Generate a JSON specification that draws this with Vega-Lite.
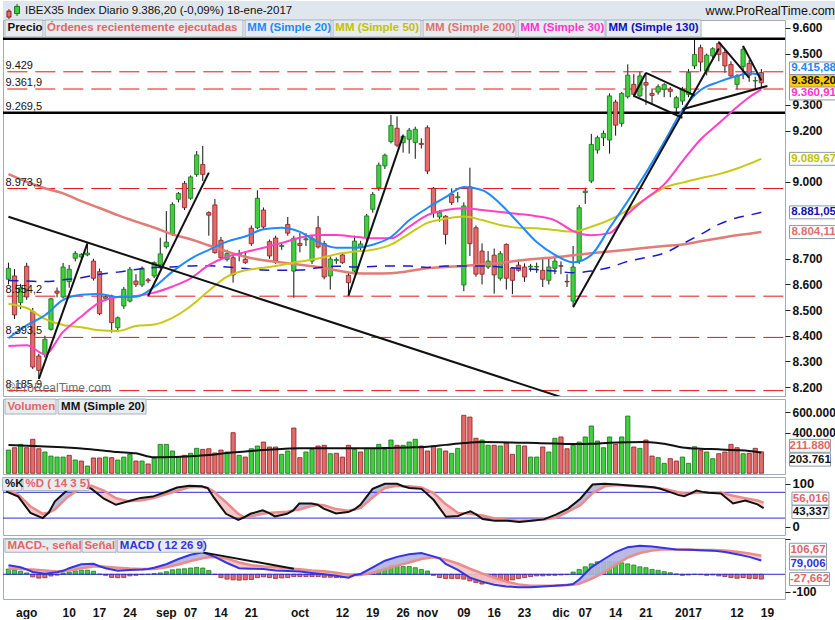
{
"$schema":"https://vega.github.io/schema/vega-lite/v6.json",
"padding":0,
"background":"white",
"spacing":3,
"bounds":"flush",
"config":{"view":{"stroke":"#a3adb8","strokeWidth":1},"font":"Liberation Sans","axis":{"labelFont":"Liberation Sans","labelFontWeight":"bold","labelFontSize":12,"labelColor":"#111","tickColor":"#222","domain":false,"grid":false,"zindex":0}},
"datasets":{
"one":[{"z":0}],
"c":[
{"d":"2016-07-27","o":8620,"h":8685,"l":8600,"c":8663,"v":229000,"vc":"g","mh":30},
{"d":"2016-07-28","o":8633,"h":8660,"l":8465,"c":8481,"v":252000,"vc":"r","mh":24},
{"d":"2016-07-29","o":8529,"h":8602,"l":8504,"c":8587,"v":285000,"vc":"g","mh":18},
{"d":"2016-08-01","o":8671,"h":8684,"l":8540,"c":8551,"v":252000,"vc":"r","mh":8},
{"d":"2016-08-02","o":8494,"h":8508,"l":8270,"c":8278,"v":335000,"vc":"r","mh":-15},
{"d":"2016-08-03","o":8321,"h":8330,"l":8232,"c":8265,"v":242000,"vc":"r","mh":-22},
{"d":"2016-08-04","o":8327,"h":8400,"l":8315,"c":8386,"v":210000,"vc":"g","mh":-20},
{"d":"2016-08-05","o":8425,"h":8548,"l":8420,"c":8544,"v":170000,"vc":"g","mh":-10},
{"d":"2016-08-08","o":8574,"h":8588,"l":8550,"c":8566,"v":160000,"vc":"g","mh":-5},
{"d":"2016-08-09","o":8551,"h":8684,"l":8545,"c":8668,"v":160000,"vc":"g","mh":8},
{"d":"2016-08-10","o":8611,"h":8676,"l":8587,"c":8659,"v":177000,"vc":"r","mh":13},
{"d":"2016-08-11","o":8702,"h":8730,"l":8690,"c":8721,"v":131000,"vc":"g","mh":20},
{"d":"2016-08-12","o":8707,"h":8722,"l":8700,"c":8717,"v":121000,"vc":"r","mh":24},
{"d":"2016-08-15","o":8715,"h":8759,"l":8710,"c":8722,"v":72000,"vc":"g","mh":24},
{"d":"2016-08-16","o":8691,"h":8700,"l":8615,"c":8624,"v":151000,"vc":"r","mh":18},
{"d":"2016-08-17","o":8650,"h":8662,"l":8480,"c":8486,"v":151000,"vc":"r","mh":1},
{"d":"2016-08-18","o":8545,"h":8560,"l":8535,"c":8551,"v":160000,"vc":"g","mh":-6},
{"d":"2016-08-19","o":8555,"h":8560,"l":8412,"c":8451,"v":154000,"vc":"r","mh":-18},
{"d":"2016-08-22","o":8431,"h":8475,"l":8420,"c":8470,"v":131000,"vc":"g","mh":-20},
{"d":"2016-08-23","o":8516,"h":8590,"l":8505,"c":8581,"v":160000,"vc":"g","mh":-18},
{"d":"2016-08-24","o":8535,"h":8668,"l":8530,"c":8659,"v":187000,"vc":"g","mh":-9},
{"d":"2016-08-25","o":8613,"h":8640,"l":8590,"c":8600,"v":121000,"vc":"r","mh":-6},
{"d":"2016-08-26","o":8598,"h":8670,"l":8590,"c":8663,"v":121000,"vc":"g","mh":-2},
{"d":"2016-08-29","o":8618,"h":8625,"l":8605,"c":8614,"v":92000,"vc":"r","mh":0},
{"d":"2016-08-30","o":8633,"h":8690,"l":8625,"c":8685,"v":147000,"vc":"g","mh":4},
{"d":"2016-08-31","o":8676,"h":8782,"l":8660,"c":8719,"v":285000,"vc":"g","mh":8},
{"d":"2016-09-01","o":8747,"h":8886,"l":8740,"c":8765,"v":285000,"vc":"g","mh":15},
{"d":"2016-09-02","o":8798,"h":8920,"l":8790,"c":8912,"v":220000,"vc":"g","mh":26},
{"d":"2016-09-05","o":8932,"h":8960,"l":8920,"c":8955,"v":160000,"vc":"g","mh":30},
{"d":"2016-09-06","o":8994,"h":9003,"l":8890,"c":8899,"v":177000,"vc":"r","mh":32},
{"d":"2016-09-07","o":8936,"h":9025,"l":8930,"c":9019,"v":197000,"vc":"g","mh":36},
{"d":"2016-09-08","o":9029,"h":9120,"l":9020,"c":9105,"v":246000,"vc":"g","mh":40},
{"d":"2016-09-09","o":9068,"h":9140,"l":9003,"c":9029,"v":236000,"vc":"r","mh":36},
{"d":"2016-09-12","o":8880,"h":8885,"l":8790,"c":8870,"v":242000,"vc":"r","mh":22},
{"d":"2016-09-13","o":8910,"h":8933,"l":8720,"c":8724,"v":200000,"vc":"r","mh":-1},
{"d":"2016-09-14","o":8772,"h":8785,"l":8700,"c":8704,"v":229000,"vc":"r","mh":-19},
{"d":"2016-09-15","o":8698,"h":8735,"l":8690,"c":8720,"v":210000,"vc":"g","mh":-28},
{"d":"2016-09-16","o":8704,"h":8715,"l":8607,"c":8637,"v":400000,"vc":"r","mh":-32},
{"d":"2016-09-19","o":8715,"h":8735,"l":8690,"c":8720,"v":177000,"vc":"g","mh":-34},
{"d":"2016-09-20","o":8698,"h":8730,"l":8680,"c":8685,"v":160000,"vc":"r","mh":-32},
{"d":"2016-09-21","o":8819,"h":8830,"l":8750,"c":8759,"v":242000,"vc":"g","mh":-30},
{"d":"2016-09-22","o":8821,"h":8967,"l":8815,"c":8936,"v":269000,"vc":"g","mh":-19},
{"d":"2016-09-23","o":8890,"h":8900,"l":8815,"c":8824,"v":308000,"vc":"r","mh":-15},
{"d":"2016-09-26","o":8767,"h":8775,"l":8700,"c":8711,"v":259000,"vc":"r","mh":-19},
{"d":"2016-09-27","o":8781,"h":8790,"l":8680,"c":8691,"v":259000,"vc":"r","mh":-24},
{"d":"2016-09-28","o":8748,"h":8760,"l":8735,"c":8752,"v":187000,"vc":"g","mh":-21},
{"d":"2016-09-29","o":8834,"h":8863,"l":8790,"c":8800,"v":220000,"vc":"g","mh":-19},
{"d":"2016-09-30","o":8652,"h":8790,"l":8548,"c":8780,"v":446000,"vc":"r","mh":-13},
{"d":"2016-10-03","o":8760,"h":8800,"l":8725,"c":8752,"v":154000,"vc":"r","mh":-13},
{"d":"2016-10-04","o":8774,"h":8800,"l":8750,"c":8778,"v":210000,"vc":"g","mh":-13},
{"d":"2016-10-05","o":8691,"h":8790,"l":8680,"c":8780,"v":236000,"vc":"g","mh":-13},
{"d":"2016-10-06","o":8821,"h":8867,"l":8740,"c":8746,"v":269000,"vc":"r","mh":-13},
{"d":"2016-10-07","o":8759,"h":8770,"l":8620,"c":8629,"v":276000,"vc":"r","mh":-17},
{"d":"2016-10-10","o":8633,"h":8710,"l":8580,"c":8699,"v":193000,"vc":"g","mh":-17},
{"d":"2016-10-11","o":8693,"h":8705,"l":8680,"c":8697,"v":197000,"vc":"r","mh":-19},
{"d":"2016-10-12","o":8715,"h":8725,"l":8680,"c":8685,"v":160000,"vc":"r","mh":-19},
{"d":"2016-10-13","o":8636,"h":8645,"l":8556,"c":8607,"v":276000,"vc":"r","mh":-13},
{"d":"2016-10-14","o":8652,"h":8790,"l":8640,"c":8769,"v":236000,"vc":"g","mh":-6},
{"d":"2016-10-17","o":8745,"h":8770,"l":8730,"c":8758,"v":210000,"vc":"r","mh":1},
{"d":"2016-10-18","o":8782,"h":8875,"l":8770,"c":8867,"v":246000,"vc":"g","mh":5},
{"d":"2016-10-19","o":8893,"h":8960,"l":8880,"c":8951,"v":246000,"vc":"g","mh":13},
{"d":"2016-10-20","o":8977,"h":9075,"l":8965,"c":9065,"v":285000,"vc":"g","mh":28},
{"d":"2016-10-21","o":9062,"h":9110,"l":9050,"c":9104,"v":236000,"vc":"g","mh":38},
{"d":"2016-10-24","o":9157,"h":9261,"l":9150,"c":9220,"v":328000,"vc":"g","mh":51},
{"d":"2016-10-25","o":9209,"h":9255,"l":9135,"c":9143,"v":276000,"vc":"r","mh":51},
{"d":"2016-10-26","o":9153,"h":9185,"l":9114,"c":9178,"v":276000,"vc":"g","mh":45},
{"d":"2016-10-27","o":9166,"h":9210,"l":9110,"c":9201,"v":308000,"vc":"g","mh":45},
{"d":"2016-10-28","o":9153,"h":9215,"l":9090,"c":9205,"v":335000,"vc":"g","mh":38},
{"d":"2016-10-31","o":9150,"h":9170,"l":9130,"c":9146,"v":269000,"vc":"r","mh":28},
{"d":"2016-11-01","o":9211,"h":9220,"l":9030,"c":9042,"v":220000,"vc":"r","mh":19},
{"d":"2016-11-02","o":8975,"h":8980,"l":8860,"c":8880,"v":269000,"vc":"r","mh":-6},
{"d":"2016-11-03","o":8863,"h":8890,"l":8845,"c":8880,"v":242000,"vc":"g","mh":-19},
{"d":"2016-11-04","o":8866,"h":8870,"l":8756,"c":8795,"v":220000,"vc":"r","mh":-24},
{"d":"2016-11-07","o":8951,"h":8975,"l":8910,"c":8919,"v":197000,"vc":"g","mh":-24},
{"d":"2016-11-08","o":8938,"h":8960,"l":8920,"c":8942,"v":246000,"vc":"g","mh":-24},
{"d":"2016-11-09","o":8598,"h":8920,"l":8574,"c":8906,"v":571000,"vc":"r","mh":-28},
{"d":"2016-11-10","o":8980,"h":9055,"l":8711,"c":8759,"v":554000,"vc":"r","mh":-38},
{"d":"2016-11-11","o":8821,"h":8830,"l":8630,"c":8640,"v":345000,"vc":"r","mh":-47},
{"d":"2016-11-14","o":8730,"h":8760,"l":8600,"c":8640,"v":328000,"vc":"g","mh":-56},
{"d":"2016-11-15","o":8668,"h":8730,"l":8660,"c":8691,"v":276000,"vc":"g","mh":-51},
{"d":"2016-11-16","o":8714,"h":8740,"l":8564,"c":8637,"v":276000,"vc":"r","mh":-47},
{"d":"2016-11-17","o":8624,"h":8730,"l":8615,"c":8720,"v":269000,"vc":"g","mh":-47},
{"d":"2016-11-18","o":8756,"h":8760,"l":8580,"c":8624,"v":296000,"vc":"r","mh":-38},
{"d":"2016-11-21","o":8663,"h":8668,"l":8562,"c":8616,"v":187000,"vc":"r","mh":-32},
{"d":"2016-11-22","o":8675,"h":8690,"l":8650,"c":8655,"v":276000,"vc":"g","mh":-24},
{"d":"2016-11-23","o":8668,"h":8682,"l":8610,"c":8629,"v":269000,"vc":"r","mh":-19},
{"d":"2016-11-24","o":8668,"h":8680,"l":8650,"c":8671,"v":160000,"vc":"g","mh":-13},
{"d":"2016-11-25","o":8668,"h":8685,"l":8645,"c":8670,"v":160000,"vc":"g","mh":-9},
{"d":"2016-11-28","o":8655,"h":8700,"l":8590,"c":8620,"v":259000,"vc":"r","mh":-9},
{"d":"2016-11-29","o":8616,"h":8700,"l":8600,"c":8668,"v":210000,"vc":"g","mh":-6},
{"d":"2016-11-30","o":8663,"h":8705,"l":8640,"c":8691,"v":345000,"vc":"g","mh":-6},
{"d":"2016-12-01","o":8673,"h":8690,"l":8640,"c":8671,"v":358000,"vc":"r","mh":-4},
{"d":"2016-12-02","o":8612,"h":8640,"l":8590,"c":8610,"v":242000,"vc":"r","mh":-2},
{"d":"2016-12-05","o":8535,"h":8750,"l":8516,"c":8668,"v":276000,"vc":"g","mh":13},
{"d":"2016-12-06","o":8691,"h":8910,"l":8680,"c":8899,"v":308000,"vc":"g","mh":28},
{"d":"2016-12-07","o":8958,"h":8977,"l":8914,"c":8964,"v":358000,"vc":"g","mh":43},
{"d":"2016-12-08","o":9003,"h":9187,"l":8995,"c":9146,"v":466000,"vc":"g","mh":60},
{"d":"2016-12-09","o":9124,"h":9180,"l":9110,"c":9172,"v":318000,"vc":"g","mh":72},
{"d":"2016-12-12","o":9172,"h":9200,"l":9140,"c":9189,"v":252000,"vc":"g","mh":75},
{"d":"2016-12-13","o":9163,"h":9345,"l":9110,"c":9335,"v":358000,"vc":"g","mh":75},
{"d":"2016-12-14","o":9311,"h":9320,"l":9180,"c":9221,"v":285000,"vc":"r","mh":72},
{"d":"2016-12-15","o":9228,"h":9350,"l":9215,"c":9345,"v":358000,"vc":"g","mh":66},
{"d":"2016-12-16","o":9332,"h":9458,"l":9325,"c":9416,"v":564000,"vc":"g","mh":60},
{"d":"2016-12-19","o":9380,"h":9420,"l":9330,"c":9341,"v":259000,"vc":"r","mh":53},
{"d":"2016-12-20","o":9335,"h":9430,"l":9330,"c":9413,"v":246000,"vc":"g","mh":43},
{"d":"2016-12-21","o":9387,"h":9426,"l":9300,"c":9377,"v":328000,"vc":"r","mh":38},
{"d":"2016-12-22","o":9345,"h":9360,"l":9300,"c":9337,"v":170000,"vc":"r","mh":28},
{"d":"2016-12-23","o":9350,"h":9380,"l":9340,"c":9371,"v":154000,"vc":"g","mh":23},
{"d":"2016-12-27","o":9361,"h":9385,"l":9330,"c":9379,"v":98000,"vc":"g","mh":15},
{"d":"2016-12-28","o":9361,"h":9370,"l":9330,"c":9353,"v":144000,"vc":"r","mh":9},
{"d":"2016-12-29","o":9289,"h":9335,"l":9270,"c":9328,"v":121000,"vc":"r","mh":2},
{"d":"2016-12-30","o":9315,"h":9370,"l":9300,"c":9361,"v":160000,"vc":"g","mh":-6},
{"d":"2017-01-02","o":9341,"h":9440,"l":9330,"c":9426,"v":98000,"vc":"g","mh":-4},
{"d":"2017-01-03","o":9452,"h":9556,"l":9440,"c":9497,"v":262000,"vc":"g","mh":0},
{"d":"2017-01-04","o":9523,"h":9535,"l":9430,"c":9467,"v":229000,"vc":"r","mh":-2},
{"d":"2017-01-05","o":9432,"h":9500,"l":9415,"c":9494,"v":210000,"vc":"g","mh":-6},
{"d":"2017-01-06","o":9491,"h":9525,"l":9480,"c":9519,"v":144000,"vc":"g","mh":-4},
{"d":"2017-01-09","o":9540,"h":9548,"l":9470,"c":9497,"v":193000,"vc":"r","mh":-9},
{"d":"2017-01-10","o":9504,"h":9515,"l":9425,"c":9452,"v":210000,"vc":"r","mh":-13},
{"d":"2017-01-11","o":9458,"h":9470,"l":9405,"c":9413,"v":285000,"vc":"r","mh":-19},
{"d":"2017-01-12","o":9380,"h":9420,"l":9360,"c":9413,"v":252000,"vc":"r","mh":-23},
{"d":"2017-01-13","o":9449,"h":9530,"l":9400,"c":9517,"v":193000,"vc":"g","mh":-19},
{"d":"2017-01-16","o":9462,"h":9475,"l":9390,"c":9416,"v":197000,"vc":"r","mh":-24},
{"d":"2017-01-17","o":9393,"h":9410,"l":9360,"c":9395,"v":246000,"vc":"r","mh":-24},
{"d":"2017-01-18","o":9426,"h":9440,"l":9368,"c":9386.2,"v":211880,"vc":"r","mh":-27.662}
],
"ma":[
{"d":"2016-07-27","a20":8390,"a30":8360,"a50":8525,"a200":9030,"a130":8615,"vm":280000},
{"d":"2016-08-01","a20":8440,"a30":8363,"a50":8508,"a200":9000,"a130":8613,"vm":272000},
{"d":"2016-08-04","a20":8480,"a30":8328,"a50":8466,"a200":8975,"a130":8611,"vm":265000},
{"d":"2016-08-09","a20":8540,"a30":8415,"a50":8442,"a200":8955,"a130":8618,"vm":256000},
{"d":"2016-08-12","a20":8560,"a30":8475,"a50":8433,"a200":8925,"a130":8626,"vm":245000},
{"d":"2016-08-17","a20":8563,"a30":8530,"a50":8421,"a200":8898,"a130":8640,"vm":228000},
{"d":"2016-08-22","a20":8551,"a30":8551,"a50":8418,"a200":8870,"a130":8648,"vm":210000},
{"d":"2016-08-25","a20":8552,"a30":8555,"a50":8438,"a200":8845,"a130":8658,"vm":197000},
{"d":"2016-08-30","a20":8590,"a30":8568,"a50":8444,"a200":8822,"a130":8666,"vm":158000},
{"d":"2016-09-02","a20":8650,"a30":8592,"a50":8470,"a200":8795,"a130":8668,"vm":160000},
{"d":"2016-09-07","a20":8700,"a30":8624,"a50":8515,"a200":8776,"a130":8672,"vm":168000},
{"d":"2016-09-12","a20":8735,"a30":8675,"a50":8575,"a200":8752,"a130":8673,"vm":180000},
{"d":"2016-09-15","a20":8767,"a30":8708,"a50":8630,"a200":8728,"a130":8668,"vm":200000},
{"d":"2016-09-20","a20":8787,"a30":8726,"a50":8655,"a200":8708,"a130":8662,"vm":215000},
{"d":"2016-09-23","a20":8815,"a30":8743,"a50":8665,"a200":8694,"a130":8656,"vm":230000},
{"d":"2016-09-28","a20":8821,"a30":8762,"a50":8676,"a200":8686,"a130":8655,"vm":240000},
{"d":"2016-10-03","a20":8805,"a30":8782,"a50":8689,"a200":8677,"a130":8656,"vm":246000},
{"d":"2016-10-06","a20":8765,"a30":8793,"a50":8701,"a200":8668,"a130":8665,"vm":246000},
{"d":"2016-10-11","a20":8743,"a30":8793,"a50":8718,"a200":8655,"a130":8671,"vm":246000},
{"d":"2016-10-14","a20":8743,"a30":8786,"a50":8728,"a200":8644,"a130":8668,"vm":246000},
{"d":"2016-10-19","a20":8755,"a30":8780,"a50":8735,"a200":8643,"a130":8670,"vm":246000},
{"d":"2016-10-24","a20":8785,"a30":8780,"a50":8755,"a200":8644,"a130":8672,"vm":250000},
{"d":"2016-10-27","a20":8850,"a30":8825,"a50":8798,"a200":8652,"a130":8672,"vm":255000},
{"d":"2016-11-01","a20":8898,"a30":8870,"a50":8840,"a200":8663,"a130":8666,"vm":262000},
{"d":"2016-11-04","a20":8940,"a30":8890,"a50":8856,"a200":8668,"a130":8672,"vm":280000},
{"d":"2016-11-09","a20":8980,"a30":8897,"a50":8865,"a200":8672,"a130":8672,"vm":298000},
{"d":"2016-11-14","a20":8968,"a30":8890,"a50":8851,"a200":8678,"a130":8672,"vm":308000},
{"d":"2016-11-17","a20":8915,"a30":8882,"a50":8832,"a200":8684,"a130":8668,"vm":306000},
{"d":"2016-11-22","a20":8840,"a30":8875,"a50":8821,"a200":8693,"a130":8663,"vm":302000},
{"d":"2016-11-25","a20":8765,"a30":8866,"a50":8819,"a200":8700,"a130":8658,"vm":298000},
{"d":"2016-11-30","a20":8715,"a30":8850,"a50":8812,"a200":8706,"a130":8652,"vm":294000},
{"d":"2016-12-05","a20":8686,"a30":8808,"a50":8806,"a200":8714,"a130":8646,"vm":288000},
{"d":"2016-12-08","a20":8715,"a30":8792,"a50":8825,"a200":8722,"a130":8652,"vm":290000},
{"d":"2016-12-13","a20":8820,"a30":8800,"a50":8852,"a200":8728,"a130":8666,"vm":300000},
{"d":"2016-12-16","a20":8925,"a30":8875,"a50":8890,"a200":8735,"a130":8690,"vm":306000},
{"d":"2016-12-21","a20":9035,"a30":8935,"a50":8935,"a200":8743,"a130":8705,"vm":308000},
{"d":"2016-12-27","a20":9155,"a30":8990,"a50":8977,"a200":8750,"a130":8722,"vm":290000},
{"d":"2016-12-30","a20":9280,"a30":9080,"a50":8997,"a200":8756,"a130":8758,"vm":255000},
{"d":"2017-01-04","a20":9358,"a30":9165,"a50":9014,"a200":8768,"a130":8795,"vm":242000},
{"d":"2017-01-09","a20":9390,"a30":9228,"a50":9030,"a200":8780,"a130":8834,"vm":236000},
{"d":"2017-01-12","a20":9413,"a30":9292,"a50":9052,"a200":8792,"a130":8860,"vm":228000},
{"d":"2017-01-16","a20":9423,"a30":9330,"a50":9070,"a200":8798,"a130":8870,"vm":220000},
{"d":"2017-01-18","a20":9415.88,"a30":9360.91,"a50":9089.67,"a200":8804.11,"a130":8881.05,"vm":203761}
],
"st":[
{"d":"2016-07-27","K":82,"D":86,"s":1,"p":"dn"},{"d":"2016-07-29","K":70,"D":75,"s":1,"p":"dn"},{"d":"2016-08-02","K":32,"D":47,"s":1,"p":"dn"},{"d":"2016-08-04","K":20,"D":30,"s":1,"p":"dn"},{"d":"2016-08-05","K":33,"D":33,"s":1,"p":"dn"},
{"d":"2016-08-05","K":33,"D":33,"s":2,"p":"up"},{"d":"2016-08-08","K":59,"D":40,"s":2,"p":"up"},{"d":"2016-08-10","K":85,"D":68,"s":2,"p":"up"},{"d":"2016-08-12","K":100,"D":88,"s":2,"p":"up"},{"d":"2016-08-15","K":94,"D":94,"s":2,"p":"up"},
{"d":"2016-08-15","K":94,"D":94,"s":3,"p":"dn"},{"d":"2016-08-16","K":88,"D":95,"s":3,"p":"dn"},{"d":"2016-08-18","K":65,"D":84,"s":3,"p":"dn"},{"d":"2016-08-22","K":51,"D":66,"s":3,"p":"dn"},{"d":"2016-08-24","K":59,"D":59,"s":3,"p":"dn"},
{"d":"2016-08-24","K":59,"D":59,"s":4,"p":"up"},{"d":"2016-08-26","K":67,"D":61,"s":4,"p":"up"},{"d":"2016-08-30","K":70,"D":66,"s":4,"p":"up"},{"d":"2016-09-01","K":80,"D":75,"s":4,"p":"up"},{"d":"2016-09-05","K":91,"D":83,"s":4,"p":"up"},{"d":"2016-09-07","K":95,"D":92,"s":4,"p":"up"},{"d":"2016-09-09","K":94,"D":93,"s":4,"p":"up"},{"d":"2016-09-12","K":90,"D":90,"s":4,"p":"up"},
{"d":"2016-09-12","K":90,"D":90,"s":5,"p":"dn"},{"d":"2016-09-13","K":68,"D":82,"s":5,"p":"dn"},{"d":"2016-09-15","K":30,"D":57,"s":5,"p":"dn"},{"d":"2016-09-19","K":16,"D":30,"s":5,"p":"dn"},{"d":"2016-09-20","K":22,"D":22,"s":5,"p":"dn"},
{"d":"2016-09-20","K":22,"D":22,"s":6,"p":"up"},{"d":"2016-09-21","K":30,"D":24,"s":6,"p":"up"},{"d":"2016-09-23","K":38,"D":30,"s":6,"p":"up"},{"d":"2016-09-26","K":32,"D":32,"s":6,"p":"up"},
{"d":"2016-09-26","K":32,"D":32,"s":7,"p":"dn"},{"d":"2016-09-27","K":24,"D":33,"s":7,"p":"dn"},{"d":"2016-09-29","K":30,"D":35,"s":7,"p":"dn"},{"d":"2016-09-30","K":38,"D":38,"s":7,"p":"dn"},
{"d":"2016-09-30","K":38,"D":38,"s":8,"p":"up"},{"d":"2016-10-03","K":54,"D":40,"s":8,"p":"up"},{"d":"2016-10-05","K":54,"D":48,"s":8,"p":"up"},{"d":"2016-10-06","K":51,"D":51,"s":8,"p":"up"},
{"d":"2016-10-06","K":51,"D":51,"s":9,"p":"dn"},{"d":"2016-10-07","K":42,"D":50,"s":9,"p":"dn"},{"d":"2016-10-11","K":31,"D":41,"s":9,"p":"dn"},{"d":"2016-10-13","K":34,"D":37,"s":9,"p":"dn"},{"d":"2016-10-14","K":40,"D":40,"s":9,"p":"dn"},
{"d":"2016-10-14","K":40,"D":40,"s":10,"p":"up"},{"d":"2016-10-17","K":51,"D":43,"s":10,"p":"up"},{"d":"2016-10-19","K":88,"D":68,"s":10,"p":"up"},{"d":"2016-10-21","K":100,"D":90,"s":10,"p":"up"},{"d":"2016-10-25","K":100,"D":95,"s":10,"p":"up"},{"d":"2016-10-26","K":94,"D":94,"s":10,"p":"up"},
{"d":"2016-10-26","K":94,"D":94,"s":11,"p":"dn"},{"d":"2016-10-27","K":90,"D":94,"s":11,"p":"dn"},{"d":"2016-10-31","K":88,"D":91,"s":11,"p":"dn"},{"d":"2016-11-02","K":62,"D":78,"s":11,"p":"dn"},{"d":"2016-11-04","K":23,"D":52,"s":11,"p":"dn"},{"d":"2016-11-08","K":25,"D":32,"s":11,"p":"dn"},{"d":"2016-11-09","K":31,"D":31,"s":11,"p":"dn"},
{"d":"2016-11-09","K":31,"D":31,"s":12,"p":"up"},{"d":"2016-11-10","K":36,"D":30,"s":12,"p":"up"},{"d":"2016-11-11","K":28,"D":28,"s":12,"p":"up"},
{"d":"2016-11-11","K":28,"D":28,"s":13,"p":"dn"},{"d":"2016-11-14","K":18,"D":26,"s":13,"p":"dn"},{"d":"2016-11-16","K":14,"D":19,"s":13,"p":"dn"},{"d":"2016-11-18","K":14,"D":16,"s":13,"p":"dn"},{"d":"2016-11-22","K":11,"D":14,"s":13,"p":"dn"},{"d":"2016-11-24","K":14,"D":15,"s":13,"p":"dn"},{"d":"2016-11-28","K":17,"D":17,"s":13,"p":"dn"},
{"d":"2016-11-28","K":17,"D":17,"s":14,"p":"up"},{"d":"2016-11-30","K":28,"D":21,"s":14,"p":"up"},{"d":"2016-12-02","K":42,"D":35,"s":14,"p":"up"},{"d":"2016-12-06","K":65,"D":50,"s":14,"p":"up"},{"d":"2016-12-08","K":98,"D":78,"s":14,"p":"up"},{"d":"2016-12-12","K":100,"D":94,"s":14,"p":"up"},{"d":"2016-12-14","K":98,"D":97,"s":14,"p":"up"},{"d":"2016-12-16","K":96,"D":95,"s":14,"p":"up"},{"d":"2016-12-20","K":94,"D":93,"s":14,"p":"up"},{"d":"2016-12-22","K":92,"D":91,"s":14,"p":"up"},{"d":"2016-12-23","K":89,"D":89,"s":14,"p":"up"},
{"d":"2016-12-23","K":89,"D":89,"s":15,"p":"dn"},{"d":"2016-12-27","K":84,"D":87,"s":15,"p":"dn"},{"d":"2016-12-29","K":74,"D":80,"s":15,"p":"dn"},{"d":"2016-12-30","K":71,"D":78,"s":15,"p":"dn"},{"d":"2017-01-02","K":77,"D":77,"s":15,"p":"dn"},
{"d":"2017-01-02","K":77,"D":77,"s":16,"p":"up"},{"d":"2017-01-03","K":84,"D":79,"s":16,"p":"up"},{"d":"2017-01-04","K":81,"D":79,"s":16,"p":"up"},{"d":"2017-01-05","K":79,"D":79,"s":16,"p":"up"},
{"d":"2017-01-05","K":79,"D":79,"s":17,"p":"dn"},{"d":"2017-01-09","K":77,"D":79,"s":17,"p":"dn"},{"d":"2017-01-11","K":54,"D":72,"s":17,"p":"dn"},{"d":"2017-01-13","K":61,"D":66,"s":17,"p":"dn"},{"d":"2017-01-17","K":52,"D":61,"s":17,"p":"dn"},{"d":"2017-01-18","K":43.337,"D":56.016,"s":17,"p":"dn"}
],
"mc":[
{"d":"2016-07-27","m":52,"s":32,"g":1,"q":"up"},{"d":"2016-07-29","m":40,"s":32,"g":1,"q":"up"},{"d":"2016-08-01","m":28,"s":28,"g":1,"q":"up"},
{"d":"2016-08-01","m":28,"s":28,"g":2,"q":"dn"},{"d":"2016-08-02","m":13,"s":27,"g":2,"q":"dn"},{"d":"2016-08-04","m":3,"s":22,"g":2,"q":"dn"},{"d":"2016-08-08","m":12,"s":16,"g":2,"q":"dn"},{"d":"2016-08-09","m":20,"s":20,"g":2,"q":"dn"},
{"d":"2016-08-09","m":20,"s":20,"g":3,"q":"up"},{"d":"2016-08-10","m":35,"s":22,"g":3,"q":"up"},{"d":"2016-08-12","m":58,"s":35,"g":3,"q":"up"},{"d":"2016-08-16","m":60,"s":45,"g":3,"q":"up"},{"d":"2016-08-17","m":46,"s":46,"g":3,"q":"up"},
{"d":"2016-08-17","m":46,"s":46,"g":4,"q":"dn"},{"d":"2016-08-18","m":35,"s":43,"g":4,"q":"dn"},{"d":"2016-08-22","m":20,"s":38,"g":4,"q":"dn"},{"d":"2016-08-24","m":25,"s":33,"g":4,"q":"dn"},{"d":"2016-08-26","m":28,"s":30,"g":4,"q":"dn"},{"d":"2016-08-29","m":31,"s":31,"g":4,"q":"dn"},
{"d":"2016-08-29","m":31,"s":31,"g":5,"q":"up"},{"d":"2016-08-30","m":38,"s":31,"g":5,"q":"up"},{"d":"2016-09-01","m":58,"s":40,"g":5,"q":"up"},{"d":"2016-09-05","m":88,"s":56,"g":5,"q":"up"},{"d":"2016-09-07","m":112,"s":76,"g":5,"q":"up"},{"d":"2016-09-09","m":126,"s":92,"g":5,"q":"up"},{"d":"2016-09-12","m":114,"s":98,"g":5,"q":"up"},{"d":"2016-09-13","m":100,"s":100,"g":5,"q":"up"},
{"d":"2016-09-13","m":100,"s":100,"g":6,"q":"dn"},{"d":"2016-09-15","m":65,"s":90,"g":6,"q":"dn"},{"d":"2016-09-19","m":35,"s":68,"g":6,"q":"dn"},{"d":"2016-09-21","m":32,"s":52,"g":6,"q":"dn"},{"d":"2016-09-23","m":30,"s":45,"g":6,"q":"dn"},{"d":"2016-09-27","m":22,"s":40,"g":6,"q":"dn"},{"d":"2016-09-29","m":19,"s":34,"g":6,"q":"dn"},{"d":"2016-10-03","m":16,"s":29,"g":6,"q":"dn"},{"d":"2016-10-05","m":8,"s":22,"g":6,"q":"dn"},{"d":"2016-10-07","m":0,"s":17,"g":6,"q":"dn"},{"d":"2016-10-11","m":-9,"s":9,"g":6,"q":"dn"},{"d":"2016-10-13","m":-20,"s":-2,"g":6,"q":"dn"},{"d":"2016-10-14","m":-4,"s":-4,"g":6,"q":"dn"},
{"d":"2016-10-14","m":-4,"s":-4,"g":7,"q":"up"},{"d":"2016-10-17","m":2,"s":-4,"g":7,"q":"up"},{"d":"2016-10-19","m":40,"s":8,"g":7,"q":"up"},{"d":"2016-10-21","m":78,"s":28,"g":7,"q":"up"},{"d":"2016-10-25","m":100,"s":50,"g":7,"q":"up"},{"d":"2016-10-27","m":115,"s":68,"g":7,"q":"up"},{"d":"2016-10-31","m":122,"s":88,"g":7,"q":"up"},{"d":"2016-11-02","m":103,"s":98,"g":7,"q":"up"},{"d":"2016-11-03","m":92,"s":92,"g":7,"q":"up"},
{"d":"2016-11-03","m":92,"s":92,"g":8,"q":"dn"},{"d":"2016-11-04","m":60,"s":84,"g":8,"q":"dn"},{"d":"2016-11-08","m":25,"s":62,"g":8,"q":"dn"},{"d":"2016-11-10","m":-19,"s":32,"g":8,"q":"dn"},{"d":"2016-11-14","m":-42,"s":5,"g":8,"q":"dn"},{"d":"2016-11-16","m":-60,"s":-20,"g":8,"q":"dn"},{"d":"2016-11-18","m":-70,"s":-42,"g":8,"q":"dn"},{"d":"2016-11-22","m":-75,"s":-58,"g":8,"q":"dn"},{"d":"2016-11-24","m":-75,"s":-66,"g":8,"q":"dn"},{"d":"2016-11-28","m":-70,"s":-66,"g":8,"q":"dn"},{"d":"2016-11-30","m":-66,"s":-65,"g":8,"q":"dn"},{"d":"2016-12-02","m":-62,"s":-62,"g":8,"q":"dn"},
{"d":"2016-12-02","m":-62,"s":-62,"g":9,"q":"up"},{"d":"2016-12-05","m":-56,"s":-60,"g":9,"q":"up"},{"d":"2016-12-06","m":-30,"s":-55,"g":9,"q":"up"},{"d":"2016-12-08","m":40,"s":-26,"g":9,"q":"up"},{"d":"2016-12-12","m":85,"s":8,"g":9,"q":"up"},{"d":"2016-12-14","m":128,"s":55,"g":9,"q":"up"},{"d":"2016-12-16","m":156,"s":96,"g":9,"q":"up"},{"d":"2016-12-20","m":164,"s":122,"g":9,"q":"up"},{"d":"2016-12-22","m":160,"s":136,"g":9,"q":"up"},{"d":"2016-12-27","m":151,"s":144,"g":9,"q":"up"},{"d":"2016-12-29","m":143,"s":143,"g":9,"q":"up"},
{"d":"2016-12-29","m":143,"s":143,"g":10,"q":"dn"},{"d":"2017-01-02","m":141,"s":142,"g":10,"q":"dn"},{"d":"2017-01-04","m":138,"s":140,"g":10,"q":"dn"},{"d":"2017-01-06","m":136,"s":140,"g":10,"q":"dn"},{"d":"2017-01-10","m":128,"s":137,"g":10,"q":"dn"},{"d":"2017-01-12","m":115,"s":130,"g":10,"q":"dn"},{"d":"2017-01-16","m":100,"s":120,"g":10,"q":"dn"},{"d":"2017-01-18","m":79.006,"s":106.67,"g":10,"q":"dn"}
],
"mt":[{"d":"2016-09-09","v":126},{"d":"2016-09-30","v":32}],
"tl":[
{"g":"T1","d":"2016-07-27","v":8864},{"g":"T1","d":"2016-12-01","v":8161},
{"g":"T2","d":"2016-08-03","v":8232},{"g":"T2","d":"2016-08-15","v":8760},
{"g":"T3","d":"2016-08-29","v":8555},{"g":"T3","d":"2016-09-12","v":9036},
{"g":"T4","d":"2016-10-13","v":8556},{"g":"T4","d":"2016-10-26","v":9180},
{"g":"T5","d":"2016-12-05","v":8511},{"g":"T5","d":"2017-01-09","v":9520},
{"g":"F1","d":"2016-12-21","v":9425},{"g":"F1","d":"2017-01-03","v":9337},
{"g":"F2","d":"2016-12-19","v":9335},{"g":"F2","d":"2016-12-30","v":9250},
{"g":"F3","d":"2016-12-19","v":9335},{"g":"F3","d":"2016-12-21","v":9425},
{"g":"W","d":"2016-12-30","v":9283},{"g":"W","d":"2017-01-19","v":9374},
{"g":"D1","d":"2017-01-09","v":9545},{"g":"D1","d":"2017-01-16","v":9405},
{"g":"D2","d":"2017-01-13","v":9530},{"g":"D2","d":"2017-01-18","v":9395}
],
"lr":[{"v":9429,"t":"9.429"},{"v":9361.9,"t":"9.361,9"},{"v":8973.9,"t":"8.973,9"},{"v":8554.2,"t":"8.554,2"},{"v":8393.5,"t":"8.393,5"},{"v":8185.9,"t":"8.185,9"}],
"lb":[{"v":9558,"t":"9.558,1"},{"v":9269.5,"t":"9.269,5"}]
},
"vconcat":[
{"width":782,"height":376,"resolve":{"axis":{"x":"independent","y":"independent"}},"layer":[
{"data":{"name":"c"},"mark":{"type":"rule","color":"#111","strokeWidth":1},"encoding":{
"x":{"field":"d","type":"ordinal","axis":null,"scale":{"paddingInner":0.3,"paddingOuter":0.55,"domain":["2016-07-27","2016-07-28","2016-07-29","2016-08-01","2016-08-02","2016-08-03","2016-08-04","2016-08-05","2016-08-08","2016-08-09","2016-08-10","2016-08-11","2016-08-12","2016-08-15","2016-08-16","2016-08-17","2016-08-18","2016-08-19","2016-08-22","2016-08-23","2016-08-24","2016-08-25","2016-08-26","2016-08-29","2016-08-30","2016-08-31","2016-09-01","2016-09-02","2016-09-05","2016-09-06","2016-09-07","2016-09-08","2016-09-09","2016-09-12","2016-09-13","2016-09-14","2016-09-15","2016-09-16","2016-09-19","2016-09-20","2016-09-21","2016-09-22","2016-09-23","2016-09-26","2016-09-27","2016-09-28","2016-09-29","2016-09-30","2016-10-03","2016-10-04","2016-10-05","2016-10-06","2016-10-07","2016-10-10","2016-10-11","2016-10-12","2016-10-13","2016-10-14","2016-10-17","2016-10-18","2016-10-19","2016-10-20","2016-10-21","2016-10-24","2016-10-25","2016-10-26","2016-10-27","2016-10-28","2016-10-31","2016-11-01","2016-11-02","2016-11-03","2016-11-04","2016-11-07","2016-11-08","2016-11-09","2016-11-10","2016-11-11","2016-11-14","2016-11-15","2016-11-16","2016-11-17","2016-11-18","2016-11-21","2016-11-22","2016-11-23","2016-11-24","2016-11-25","2016-11-28","2016-11-29","2016-11-30","2016-12-01","2016-12-02","2016-12-05","2016-12-06","2016-12-07","2016-12-08","2016-12-09","2016-12-12","2016-12-13","2016-12-14","2016-12-15","2016-12-16","2016-12-19","2016-12-20","2016-12-21","2016-12-22","2016-12-23","2016-12-27","2016-12-28","2016-12-29","2016-12-30","2017-01-02","2017-01-03","2017-01-04","2017-01-05","2017-01-06","2017-01-09","2017-01-10","2017-01-11","2017-01-12","2017-01-13","2017-01-16","2017-01-17","2017-01-18","2017-01-19","2017-01-20","2017-01-23"]}},
"y":{"field":"l","type":"quantitative","scale":{"domain":[8165,9631],"nice":false,"zero":false},"axis":{"orient":"right","title":null,"values":[8200,8300,8400,8500,8600,8700,9000,9200,9300,9500,9600],"labelExpr":"replace(format(datum.value, ',.0f'), ',', '.')","tickSize":5,"labelPadding":2}},
"y2":{"field":"h"}}},
{"data":{"name":"one"},"mark":{"type":"point","shape":"M-1,-0.02275H1V0.02275H-1Z","size":697225,"filled":true,"fill":"#dfe6ee","strokeWidth":0,"opacity":1,"xOffset":-0.8},"encoding":{"x":{"datum":"2016-10-31","type":"ordinal","axis":null},"y":{"datum":9668,"type":"quantitative","axis":null}}},
{"data":{"name":"one"},"mark":{"type":"point","shape":"M-0.4,-0.6H0.4V0.6H-0.4Z M0,-1V-0.6 M0,0.6V1","size":100,"filled":true,"fill":"#e36b6b","stroke":"#8a1e1e","strokeWidth":1,"opacity":1,"xOffset":0.5},"encoding":{"x":{"datum":"2016-07-27","type":"ordinal","axis":null},"y":{"datum":9654,"type":"quantitative","axis":null}}},
{"data":{"name":"one"},"mark":{"type":"point","shape":"M-0.4,-0.6H0.4V0.6H-0.4Z M0,-1V-0.6 M0,0.6V1","size":144,"filled":true,"fill":"#3fcf3f","stroke":"#1b6e1b","strokeWidth":1,"opacity":1,"xOffset":2.5},"encoding":{"x":{"datum":"2016-07-28","type":"ordinal","axis":null},"y":{"datum":9670,"type":"quantitative","axis":null}}},
{"data":{"name":"one"},"mark":{"type":"text","text":"IBEX35 Index   Diario   9.386,20 (-0,09%)   18-ene-2017","align":"left","baseline":"middle","fontSize":11.5,"color":"#111","xOffset":-1.7},"encoding":{"x":{"datum":"2016-08-01","type":"ordinal","axis":null},"y":{"datum":9668,"type":"quantitative","axis":null}}},
{"data":{"name":"one"},"mark":{"type":"text","text":"www.ProRealTime.com","align":"right","baseline":"middle","fontSize":12.5,"color":"#111","xOffset":55.5},"encoding":{"x":{"datum":"2017-01-23","type":"ordinal","axis":null},"y":{"datum":9668,"type":"quantitative","axis":null}}},
{"data":{"name":"lr"},"mark":{"type":"rule","color":"#e8141c","strokeWidth":1,"strokeDash":[20,8],"strokeDashOffset":26.3},"encoding":{"y":{"field":"v","type":"quantitative","axis":null}}},
{"data":{"name":"lb"},"mark":{"type":"rule","color":"#000","strokeWidth":2.5},"encoding":{"y":{"field":"v","type":"quantitative","axis":null}}},
{"data":{"name":"c"},"mark":{"type":"bar","strokeWidth":0.8},"encoding":{"x":{"field":"d","type":"ordinal","axis":null},"y":{"field":"o","type":"quantitative","axis":null},"y2":{"field":"c"},"fill":{"condition":{"test":"datum.c >= datum.o","value":"#3fcf3f"},"value":"#e36b6b"},"stroke":{"condition":{"test":"datum.c >= datum.o","value":"#1b6e1b"},"value":"#8a1e1e"}}},
{"data":{"name":"ma"},"mark":{"type":"line","color":"#e27c76","strokeWidth":2.5,"interpolate":"monotone"},"encoding":{"x":{"field":"d","type":"ordinal","axis":null},"y":{"field":"a200","type":"quantitative","axis":null}}},
{"data":{"name":"ma"},"mark":{"type":"line","color":"#1a1acc","strokeWidth":1.5,"strokeDash":[10,8],"interpolate":"monotone"},"encoding":{"x":{"field":"d","type":"ordinal","axis":null},"y":{"field":"a130","type":"quantitative","axis":null}}},
{"data":{"name":"ma"},"mark":{"type":"line","color":"#c9c914","strokeWidth":2,"interpolate":"monotone"},"encoding":{"x":{"field":"d","type":"ordinal","axis":null},"y":{"field":"a50","type":"quantitative","axis":null}}},
{"data":{"name":"ma"},"mark":{"type":"line","color":"#ff3fc8","strokeWidth":2,"interpolate":"monotone"},"encoding":{"x":{"field":"d","type":"ordinal","axis":null},"y":{"field":"a30","type":"quantitative","axis":null}}},
{"data":{"name":"ma"},"mark":{"type":"line","color":"#2189ff","strokeWidth":2,"interpolate":"monotone"},"encoding":{"x":{"field":"d","type":"ordinal","axis":null},"y":{"field":"a20","type":"quantitative","axis":null}}},
{"data":{"name":"tl"},"mark":{"type":"line","color":"#111","strokeWidth":2,"clip":true},"encoding":{"x":{"field":"d","type":"ordinal","axis":null},"y":{"field":"v","type":"quantitative","axis":null},"detail":{"field":"g","type":"nominal"}}},
{"data":{"name":"lr"},"mark":{"type":"text","align":"left","baseline":"bottom","dy":-1,"fontSize":11,"color":"#111","xOffset":-3},"encoding":{"x":{"datum":"2016-07-27","type":"ordinal","axis":null},"y":{"field":"v","type":"quantitative","axis":null},"text":{"field":"t","type":"nominal"}}},
{"data":{"name":"lb"},"mark":{"type":"text","align":"left","baseline":"bottom","dy":-1,"fontSize":11,"color":"#111","xOffset":-3},"encoding":{"x":{"datum":"2016-07-27","type":"ordinal","axis":null},"y":{"field":"v","type":"quantitative","axis":null},"text":{"field":"t","type":"nominal"}}},
{"data":{"name":"one"},"mark":{"type":"text","text":"©ProRealTime.com","align":"left","baseline":"bottom","fontSize":12,"color":"#6f6f6f","xOffset":-2},"encoding":{"x":{"datum":"2016-07-27","type":"ordinal","axis":null},"y":{"datum":8170,"type":"quantitative","axis":null}}},
{"data":{"name":"one"},"mark":{"type":"point","shape":"M-1,-0.447H1V0.447H-1Z","size":1444,"filled":true,"fill":"#e7ecf1","stroke":"#a7b2bd","strokeWidth":1,"opacity":1,"xOffset":-2.7},"encoding":{"x":{"datum":"2016-08-01","type":"ordinal","axis":null},"y":{"datum":9598,"type":"quantitative","axis":null}}},
{"data":{"name":"one"},"mark":{"type":"point","shape":"M-1,-0.0859H1V0.0859H-1Z","size":39204,"filled":true,"fill":"#e7ecf1","stroke":"#a7b2bd","strokeWidth":1,"opacity":1,"xOffset":2},"encoding":{"x":{"datum":"2016-08-26","type":"ordinal","axis":null},"y":{"datum":9598,"type":"quantitative","axis":null}}},
{"data":{"name":"one"},"mark":{"type":"point","shape":"M-1,-0.198H1V0.198H-1Z","size":7396,"filled":true,"fill":"#e7ecf1","stroke":"#a7b2bd","strokeWidth":1,"opacity":1,"xOffset":0.3},"encoding":{"x":{"datum":"2016-09-29","type":"ordinal","axis":null},"y":{"datum":9598,"type":"quantitative","axis":null}}},
{"data":{"name":"one"},"mark":{"type":"point","shape":"M-1,-0.193H1V0.193H-1Z","size":7744,"filled":true,"fill":"#e7ecf1","stroke":"#a7b2bd","strokeWidth":1,"opacity":1,"xOffset":-1.8},"encoding":{"x":{"datum":"2016-10-20","type":"ordinal","axis":null},"y":{"datum":9598,"type":"quantitative","axis":null}}},
{"data":{"name":"one"},"mark":{"type":"point","shape":"M-1,-0.183H1V0.183H-1Z","size":8649,"filled":true,"fill":"#e7ecf1","stroke":"#a7b2bd","strokeWidth":1,"opacity":1,"xOffset":-0.4},"encoding":{"x":{"datum":"2016-11-10","type":"ordinal","axis":null},"y":{"datum":9598,"type":"quantitative","axis":null}}},
{"data":{"name":"one"},"mark":{"type":"point","shape":"M-1,-0.195H1V0.195H-1Z","size":7569,"filled":true,"fill":"#e7ecf1","stroke":"#a7b2bd","strokeWidth":1,"opacity":1,"xOffset":0.6},"encoding":{"x":{"datum":"2016-12-01","type":"ordinal","axis":null},"y":{"datum":9598,"type":"quantitative","axis":null}}},
{"data":{"name":"one"},"mark":{"type":"point","shape":"M-1,-0.179H1V0.179H-1Z","size":9025,"filled":true,"fill":"#e7ecf1","stroke":"#a7b2bd","strokeWidth":1,"opacity":1,"xOffset":1.5},"encoding":{"x":{"datum":"2016-12-22","type":"ordinal","axis":null},"y":{"datum":9598,"type":"quantitative","axis":null}}},
{"data":{"name":"one"},"mark":{"type":"text","text":"Precio","align":"left","baseline":"middle","fontSize":11.5,"fontWeight":"bold","color":"#111","xOffset":-1},"encoding":{"x":{"datum":"2016-07-27","type":"ordinal","axis":null},"y":{"datum":9598,"type":"quantitative","axis":null}}},
{"data":{"name":"one"},"mark":{"type":"text","text":"Órdenes recientemente ejecutadas","align":"left","baseline":"middle","fontSize":11.5,"fontWeight":"bold","color":"#e06666","xOffset":-4},"encoding":{"x":{"datum":"2016-08-05","type":"ordinal","axis":null},"y":{"datum":9598,"type":"quantitative","axis":null}}},
{"data":{"name":"one"},"mark":{"type":"text","text":"MM (Simple 20)","align":"left","baseline":"middle","fontSize":11.5,"fontWeight":"bold","color":"#1e88ff","xOffset":-4},"encoding":{"x":{"datum":"2016-09-21","type":"ordinal","axis":null},"y":{"datum":9598,"type":"quantitative","axis":null}}},
{"data":{"name":"one"},"mark":{"type":"text","text":"MM (Simple 50)","align":"left","baseline":"middle","fontSize":11.5,"fontWeight":"bold","color":"#c2c200","xOffset":-1},"encoding":{"x":{"datum":"2016-10-11","type":"ordinal","axis":null},"y":{"datum":9598,"type":"quantitative","axis":null}}},
{"data":{"name":"one"},"mark":{"type":"text","text":"MM (Simple 200)","align":"left","baseline":"middle","fontSize":11.5,"fontWeight":"bold","color":"#e07070","xOffset":-2},"encoding":{"x":{"datum":"2016-11-01","type":"ordinal","axis":null},"y":{"datum":9598,"type":"quantitative","axis":null}}},
{"data":{"name":"one"},"mark":{"type":"text","text":"MM (Simple 30)","align":"left","baseline":"middle","fontSize":11.5,"fontWeight":"bold","color":"#ff33cc","xOffset":-4},"encoding":{"x":{"datum":"2016-11-23","type":"ordinal","axis":null},"y":{"datum":9598,"type":"quantitative","axis":null}}},
{"data":{"name":"one"},"mark":{"type":"text","text":"MM (Simple 130)","align":"left","baseline":"middle","fontSize":11.5,"fontWeight":"bold","color":"#1010bb","xOffset":-1},"encoding":{"x":{"datum":"2016-12-13","type":"ordinal","axis":null},"y":{"datum":9598,"type":"quantitative","axis":null}}},
{"data":{"name":"one"},"mark":{"type":"point","shape":"M-1,-0.27H1V0.27H-1Z","size":2304,"filled":true,"fill":"#ffffff","stroke":"#8d9aa7","strokeWidth":1,"opacity":1,"xOffset":34,"yOffset":-6.7},"encoding":{"x":{"datum":"2017-01-23","type":"ordinal","axis":null},"y":{"datum":9415.88,"type":"quantitative","axis":null}}},
{"data":{"name":"one"},"mark":{"type":"text","text":"9.415,88","fontSize":11.5,"fontWeight":"bold","color":"#1e88ff","xOffset":34,"yOffset":-6.7},"encoding":{"x":{"datum":"2017-01-23","type":"ordinal","axis":null},"y":{"datum":9415.88,"type":"quantitative","axis":null}}},
{"data":{"name":"one"},"mark":{"type":"point","shape":"M-1,-0.27H1V0.27H-1Z","size":2304,"filled":true,"fill":"#ffcc00","stroke":"#8d9aa7","strokeWidth":1,"opacity":1,"xOffset":34,"yOffset":-1.8},"encoding":{"x":{"datum":"2017-01-23","type":"ordinal","axis":null},"y":{"datum":9386.2,"type":"quantitative","axis":null}}},
{"data":{"name":"one"},"mark":{"type":"text","text":"9.386,20","fontSize":11.5,"fontWeight":"bold","color":"#111","xOffset":34,"yOffset":-1.8},"encoding":{"x":{"datum":"2017-01-23","type":"ordinal","axis":null},"y":{"datum":9386.2,"type":"quantitative","axis":null}}},
{"data":{"name":"one"},"mark":{"type":"point","shape":"M-1,-0.27H1V0.27H-1Z","size":2304,"filled":true,"fill":"#ffffff","stroke":"#8d9aa7","strokeWidth":1,"opacity":1,"xOffset":34,"yOffset":4.2},"encoding":{"x":{"datum":"2017-01-23","type":"ordinal","axis":null},"y":{"datum":9360.91,"type":"quantitative","axis":null}}},
{"data":{"name":"one"},"mark":{"type":"text","text":"9.360,91","fontSize":11.5,"fontWeight":"bold","color":"#ff33cc","xOffset":34,"yOffset":4.2},"encoding":{"x":{"datum":"2017-01-23","type":"ordinal","axis":null},"y":{"datum":9360.91,"type":"quantitative","axis":null}}},
{"data":{"name":"one"},"mark":{"type":"point","shape":"M-1,-0.27H1V0.27H-1Z","size":2304,"filled":true,"fill":"#ffffff","stroke":"#8d9aa7","strokeWidth":1,"opacity":1,"xOffset":34},"encoding":{"x":{"datum":"2017-01-23","type":"ordinal","axis":null},"y":{"datum":9089.67,"type":"quantitative","axis":null}}},
{"data":{"name":"one"},"mark":{"type":"text","text":"9.089,67","fontSize":11.5,"fontWeight":"bold","color":"#c2c200","xOffset":34},"encoding":{"x":{"datum":"2017-01-23","type":"ordinal","axis":null},"y":{"datum":9089.67,"type":"quantitative","axis":null}}},
{"data":{"name":"one"},"mark":{"type":"point","shape":"M-1,-0.27H1V0.27H-1Z","size":2304,"filled":true,"fill":"#ffffff","stroke":"#8d9aa7","strokeWidth":1,"opacity":1,"xOffset":34},"encoding":{"x":{"datum":"2017-01-23","type":"ordinal","axis":null},"y":{"datum":8881.05,"type":"quantitative","axis":null}}},
{"data":{"name":"one"},"mark":{"type":"text","text":"8.881,05","fontSize":11.5,"fontWeight":"bold","color":"#1010bb","xOffset":34},"encoding":{"x":{"datum":"2017-01-23","type":"ordinal","axis":null},"y":{"datum":8881.05,"type":"quantitative","axis":null}}},
{"data":{"name":"one"},"mark":{"type":"point","shape":"M-1,-0.27H1V0.27H-1Z","size":2304,"filled":true,"fill":"#ffffff","stroke":"#8d9aa7","strokeWidth":1,"opacity":1,"xOffset":34},"encoding":{"x":{"datum":"2017-01-23","type":"ordinal","axis":null},"y":{"datum":8804.11,"type":"quantitative","axis":null}}},
{"data":{"name":"one"},"mark":{"type":"text","text":"8.804,11","fontSize":11.5,"fontWeight":"bold","color":"#e07070","xOffset":34},"encoding":{"x":{"datum":"2017-01-23","type":"ordinal","axis":null},"y":{"datum":8804.11,"type":"quantitative","axis":null}}}
]},
{"width":782,"height":75,"resolve":{"axis":{"x":"independent","y":"independent"}},"layer":[
{"data":{"name":"c"},"mark":{"type":"bar","strokeWidth":0.8},"encoding":{
"x":{"field":"d","type":"ordinal","axis":null,"scale":{"paddingInner":0.3,"paddingOuter":0.55,"domain":["2016-07-27","2016-07-28","2016-07-29","2016-08-01","2016-08-02","2016-08-03","2016-08-04","2016-08-05","2016-08-08","2016-08-09","2016-08-10","2016-08-11","2016-08-12","2016-08-15","2016-08-16","2016-08-17","2016-08-18","2016-08-19","2016-08-22","2016-08-23","2016-08-24","2016-08-25","2016-08-26","2016-08-29","2016-08-30","2016-08-31","2016-09-01","2016-09-02","2016-09-05","2016-09-06","2016-09-07","2016-09-08","2016-09-09","2016-09-12","2016-09-13","2016-09-14","2016-09-15","2016-09-16","2016-09-19","2016-09-20","2016-09-21","2016-09-22","2016-09-23","2016-09-26","2016-09-27","2016-09-28","2016-09-29","2016-09-30","2016-10-03","2016-10-04","2016-10-05","2016-10-06","2016-10-07","2016-10-10","2016-10-11","2016-10-12","2016-10-13","2016-10-14","2016-10-17","2016-10-18","2016-10-19","2016-10-20","2016-10-21","2016-10-24","2016-10-25","2016-10-26","2016-10-27","2016-10-28","2016-10-31","2016-11-01","2016-11-02","2016-11-03","2016-11-04","2016-11-07","2016-11-08","2016-11-09","2016-11-10","2016-11-11","2016-11-14","2016-11-15","2016-11-16","2016-11-17","2016-11-18","2016-11-21","2016-11-22","2016-11-23","2016-11-24","2016-11-25","2016-11-28","2016-11-29","2016-11-30","2016-12-01","2016-12-02","2016-12-05","2016-12-06","2016-12-07","2016-12-08","2016-12-09","2016-12-12","2016-12-13","2016-12-14","2016-12-15","2016-12-16","2016-12-19","2016-12-20","2016-12-21","2016-12-22","2016-12-23","2016-12-27","2016-12-28","2016-12-29","2016-12-30","2017-01-02","2017-01-03","2017-01-04","2017-01-05","2017-01-06","2017-01-09","2017-01-10","2017-01-11","2017-01-12","2017-01-13","2017-01-16","2017-01-17","2017-01-18","2017-01-19","2017-01-20","2017-01-23"]}},
"y":{"field":"v","type":"quantitative","scale":{"domain":[-6900,732000],"nice":false,"zero":false},"axis":{"orient":"right","title":null,"values":[400000,600000],"labelExpr":"replace(format(datum.value, ',.0f'), ',', '.')","tickSize":5,"labelPadding":2}},
"fill":{"condition":{"test":"datum.vc == 'g'","value":"#3fcf3f"},"value":"#e36b6b"},
"stroke":{"condition":{"test":"datum.vc == 'g'","value":"#1b6e1b"},"value":"#8a1e1e"}}},
{"data":{"name":"ma"},"mark":{"type":"line","color":"#111","strokeWidth":2,"interpolate":"monotone"},"encoding":{"x":{"field":"d","type":"ordinal","axis":null},"y":{"field":"vm","type":"quantitative","axis":null}}},
{"data":{"name":"one"},"mark":{"type":"point","shape":"M-1,-0.294H1V0.294H-1Z","size":2601,"filled":true,"fill":"#e7ecf1","stroke":"#a7b2bd","strokeWidth":1,"opacity":1,"xOffset":-2.2},"encoding":{"x":{"datum":"2016-08-02","type":"ordinal","axis":null},"y":{"datum":658000,"type":"quantitative","axis":null}}},
{"data":{"name":"one"},"mark":{"type":"point","shape":"M-1,-0.17H1V0.17H-1Z","size":7744,"filled":true,"fill":"#e7ecf1","stroke":"#a7b2bd","strokeWidth":1,"opacity":1,"xOffset":2.5},"encoding":{"x":{"datum":"2016-08-17","type":"ordinal","axis":null},"y":{"datum":658000,"type":"quantitative","axis":null}}},
{"data":{"name":"one"},"mark":{"type":"text","text":"Volumen","align":"left","baseline":"middle","fontSize":11.5,"fontWeight":"bold","color":"#e06666","xOffset":-1},"encoding":{"x":{"datum":"2016-07-27","type":"ordinal","axis":null},"y":{"datum":658000,"type":"quantitative","axis":null}}},
{"data":{"name":"one"},"mark":{"type":"text","text":"MM (Simple 20)","align":"left","baseline":"middle","fontSize":11.5,"fontWeight":"bold","color":"#111","xOffset":-2},"encoding":{"x":{"datum":"2016-08-09","type":"ordinal","axis":null},"y":{"datum":658000,"type":"quantitative","axis":null}}},
{"data":{"name":"one"},"mark":{"type":"point","shape":"M-1,-0.317H1V0.317H-1Z","size":1681,"filled":true,"fill":"#ffffff","stroke":"#8d9aa7","strokeWidth":1,"opacity":1,"xOffset":30.5,"yOffset":-6},"encoding":{"x":{"datum":"2017-01-23","type":"ordinal","axis":null},"y":{"datum":211880,"type":"quantitative","axis":null}}},
{"data":{"name":"one"},"mark":{"type":"text","text":"211.880","fontSize":11.5,"fontWeight":"bold","color":"#e06666","xOffset":30.5,"yOffset":-6},"encoding":{"x":{"datum":"2017-01-23","type":"ordinal","axis":null},"y":{"datum":211880,"type":"quantitative","axis":null}}},
{"data":{"name":"one"},"mark":{"type":"point","shape":"M-1,-0.317H1V0.317H-1Z","size":1681,"filled":true,"fill":"#ffffff","stroke":"#8d9aa7","strokeWidth":1,"opacity":1,"xOffset":30.5,"yOffset":7},"encoding":{"x":{"datum":"2017-01-23","type":"ordinal","axis":null},"y":{"datum":203761,"type":"quantitative","axis":null}}},
{"data":{"name":"one"},"mark":{"type":"text","text":"203.761","fontSize":11.5,"fontWeight":"bold","color":"#111","xOffset":30.5,"yOffset":7},"encoding":{"x":{"datum":"2017-01-23","type":"ordinal","axis":null},"y":{"datum":203761,"type":"quantitative","axis":null}}}
]},
{"width":782,"height":58,"resolve":{"axis":{"x":"independent","y":"independent"}},"layer":[
{"data":{"name":"st"},"mark":{"type":"area","opacity":0.9},"encoding":{
"x":{"field":"d","type":"ordinal","axis":null,"scale":{"paddingInner":0.3,"paddingOuter":0.55,"domain":["2016-07-27","2016-07-28","2016-07-29","2016-08-01","2016-08-02","2016-08-03","2016-08-04","2016-08-05","2016-08-08","2016-08-09","2016-08-10","2016-08-11","2016-08-12","2016-08-15","2016-08-16","2016-08-17","2016-08-18","2016-08-19","2016-08-22","2016-08-23","2016-08-24","2016-08-25","2016-08-26","2016-08-29","2016-08-30","2016-08-31","2016-09-01","2016-09-02","2016-09-05","2016-09-06","2016-09-07","2016-09-08","2016-09-09","2016-09-12","2016-09-13","2016-09-14","2016-09-15","2016-09-16","2016-09-19","2016-09-20","2016-09-21","2016-09-22","2016-09-23","2016-09-26","2016-09-27","2016-09-28","2016-09-29","2016-09-30","2016-10-03","2016-10-04","2016-10-05","2016-10-06","2016-10-07","2016-10-10","2016-10-11","2016-10-12","2016-10-13","2016-10-14","2016-10-17","2016-10-18","2016-10-19","2016-10-20","2016-10-21","2016-10-24","2016-10-25","2016-10-26","2016-10-27","2016-10-28","2016-10-31","2016-11-01","2016-11-02","2016-11-03","2016-11-04","2016-11-07","2016-11-08","2016-11-09","2016-11-10","2016-11-11","2016-11-14","2016-11-15","2016-11-16","2016-11-17","2016-11-18","2016-11-21","2016-11-22","2016-11-23","2016-11-24","2016-11-25","2016-11-28","2016-11-29","2016-11-30","2016-12-01","2016-12-02","2016-12-05","2016-12-06","2016-12-07","2016-12-08","2016-12-09","2016-12-12","2016-12-13","2016-12-14","2016-12-15","2016-12-16","2016-12-19","2016-12-20","2016-12-21","2016-12-22","2016-12-23","2016-12-27","2016-12-28","2016-12-29","2016-12-30","2017-01-02","2017-01-03","2017-01-04","2017-01-05","2017-01-06","2017-01-09","2017-01-10","2017-01-11","2017-01-12","2017-01-13","2017-01-16","2017-01-17","2017-01-18","2017-01-19","2017-01-20","2017-01-23"]}},
"y":{"field":"K","type":"quantitative","scale":{"domain":[-19.3,115.6],"nice":false,"zero":false},"axis":{"orient":"right","title":null,"values":[0,100],"tickSize":5,"labelPadding":2,"labelFontSize":13}},
"y2":{"field":"D"},
"color":{"field":"p","type":"nominal","scale":{"domain":["dn","up"],"range":["#f4c3c3","#b4b4df"]},"legend":null},
"detail":{"field":"s","type":"nominal"}}},
{"data":{"values":[{"v":80},{"v":20}]},"mark":{"type":"rule","color":"#2a2ad4","strokeWidth":1},"encoding":{"y":{"field":"v","type":"quantitative","axis":null}}},
{"data":{"name":"st"},"mark":{"type":"line","color":"#ea8c8c","strokeWidth":2.5},"encoding":{"x":{"field":"d","type":"ordinal","axis":null},"y":{"field":"D","type":"quantitative","axis":null}}},
{"data":{"name":"st"},"mark":{"type":"line","color":"#111","strokeWidth":2},"encoding":{"x":{"field":"d","type":"ordinal","axis":null},"y":{"field":"K","type":"quantitative","axis":null}}},
{"data":{"name":"one"},"mark":{"type":"point","shape":"M-1,-0.684H1V0.684H-1Z","size":361,"filled":true,"fill":"#e7ecf1","stroke":"#a7b2bd","strokeWidth":1,"opacity":1},"encoding":{"x":{"datum":"2016-07-28","type":"ordinal","axis":null},"y":{"datum":99,"type":"quantitative","axis":null}}},
{"data":{"name":"one"},"mark":{"type":"point","shape":"M-1,-0.197H1V0.197H-1Z","size":4356,"filled":true,"fill":"#e7ecf1","stroke":"#a7b2bd","strokeWidth":1,"opacity":1,"xOffset":1},"encoding":{"x":{"datum":"2016-08-08","type":"ordinal","axis":null},"y":{"datum":99,"type":"quantitative","axis":null}}},
{"data":{"name":"one"},"mark":{"type":"text","text":"%K","align":"left","baseline":"middle","fontSize":11.5,"fontWeight":"bold","color":"#111","xOffset":-1},"encoding":{"x":{"datum":"2016-07-27","type":"ordinal","axis":null},"y":{"datum":99,"type":"quantitative","axis":null}}},
{"data":{"name":"one"},"mark":{"type":"text","text":"%D ( 14 3 5)","align":"left","baseline":"middle","fontSize":11.5,"fontWeight":"bold","color":"#e06666","xOffset":-5},"encoding":{"x":{"datum":"2016-08-02","type":"ordinal","axis":null},"y":{"datum":99,"type":"quantitative","axis":null}}},
{"data":{"name":"one"},"mark":{"type":"point","shape":"M-1,-0.35H1V0.35H-1Z","size":1369,"filled":true,"fill":"#ffffff","stroke":"#8d9aa7","strokeWidth":1,"opacity":1,"xOffset":28.5,"yOffset":-4},"encoding":{"x":{"datum":"2017-01-23","type":"ordinal","axis":null},"y":{"datum":56.016,"type":"quantitative","axis":null}}},
{"data":{"name":"one"},"mark":{"type":"text","text":"56,016","fontSize":11.5,"fontWeight":"bold","color":"#e06666","xOffset":28.5,"yOffset":-4},"encoding":{"x":{"datum":"2017-01-23","type":"ordinal","axis":null},"y":{"datum":56.016,"type":"quantitative","axis":null}}},
{"data":{"name":"one"},"mark":{"type":"point","shape":"M-1,-0.35H1V0.35H-1Z","size":1369,"filled":true,"fill":"#ffffff","stroke":"#8d9aa7","strokeWidth":1,"opacity":1,"xOffset":28.5,"yOffset":4},"encoding":{"x":{"datum":"2017-01-23","type":"ordinal","axis":null},"y":{"datum":43.337,"type":"quantitative","axis":null}}},
{"data":{"name":"one"},"mark":{"type":"text","text":"43,337","fontSize":11.5,"fontWeight":"bold","color":"#111","xOffset":28.5,"yOffset":4},"encoding":{"x":{"datum":"2017-01-23","type":"ordinal","axis":null},"y":{"datum":43.337,"type":"quantitative","axis":null}}}
]},
{"width":782,"height":61,"resolve":{"axis":{"x":"independent","y":"independent"}},"layer":[
{"data":{"name":"c"},"mark":{"type":"bar","strokeWidth":0.7},"encoding":{
"x":{"field":"d","type":"ordinal","scale":{"paddingInner":0.3,"paddingOuter":0.55,"domain":["2016-07-27","2016-07-28","2016-07-29","2016-08-01","2016-08-02","2016-08-03","2016-08-04","2016-08-05","2016-08-08","2016-08-09","2016-08-10","2016-08-11","2016-08-12","2016-08-15","2016-08-16","2016-08-17","2016-08-18","2016-08-19","2016-08-22","2016-08-23","2016-08-24","2016-08-25","2016-08-26","2016-08-29","2016-08-30","2016-08-31","2016-09-01","2016-09-02","2016-09-05","2016-09-06","2016-09-07","2016-09-08","2016-09-09","2016-09-12","2016-09-13","2016-09-14","2016-09-15","2016-09-16","2016-09-19","2016-09-20","2016-09-21","2016-09-22","2016-09-23","2016-09-26","2016-09-27","2016-09-28","2016-09-29","2016-09-30","2016-10-03","2016-10-04","2016-10-05","2016-10-06","2016-10-07","2016-10-10","2016-10-11","2016-10-12","2016-10-13","2016-10-14","2016-10-17","2016-10-18","2016-10-19","2016-10-20","2016-10-21","2016-10-24","2016-10-25","2016-10-26","2016-10-27","2016-10-28","2016-10-31","2016-11-01","2016-11-02","2016-11-03","2016-11-04","2016-11-07","2016-11-08","2016-11-09","2016-11-10","2016-11-11","2016-11-14","2016-11-15","2016-11-16","2016-11-17","2016-11-18","2016-11-21","2016-11-22","2016-11-23","2016-11-24","2016-11-25","2016-11-28","2016-11-29","2016-11-30","2016-12-01","2016-12-02","2016-12-05","2016-12-06","2016-12-07","2016-12-08","2016-12-09","2016-12-12","2016-12-13","2016-12-14","2016-12-15","2016-12-16","2016-12-19","2016-12-20","2016-12-21","2016-12-22","2016-12-23","2016-12-27","2016-12-28","2016-12-29","2016-12-30","2017-01-02","2017-01-03","2017-01-04","2017-01-05","2017-01-06","2017-01-09","2017-01-10","2017-01-11","2017-01-12","2017-01-13","2017-01-16","2017-01-17","2017-01-18","2017-01-19","2017-01-20","2017-01-23"]},
"axis":{"title":null,"orient":"bottom","values":["2016-08-01","2016-08-10","2016-08-17","2016-08-24","2016-09-01","2016-09-07","2016-09-14","2016-09-21","2016-10-03","2016-10-12","2016-10-19","2016-10-26","2016-11-01","2016-11-09","2016-11-16","2016-11-23","2016-12-01","2016-12-07","2016-12-14","2016-12-21","2017-01-02","2017-01-12","2017-01-19"],"labelExpr":"datum.value=='2016-08-01'?'ago':datum.value=='2016-09-01'?'sep':datum.value=='2016-10-03'?'oct':datum.value=='2016-11-01'?'nov':datum.value=='2016-12-01'?'dic':datum.value=='2017-01-02'?'2017':substring(datum.value,8,10)","labelAngle":0,"tickSize":0,"labelPadding":8,"labelOverlap":false,"labelFontSize":12}},
"y":{"field":"mh","type":"quantitative","scale":{"domain":[-142,208.6],"nice":false,"zero":false},"axis":{"orient":"right","title":null,"values":[-100,200],"labelExpr":"datum.value == 200 ? '' : '' + datum.value","tickSize":5,"labelPadding":2}},
"fill":{"condition":{"test":"datum.mh >= 0","value":"#3fcf3f"},"value":"#e36b6b"},
"stroke":{"condition":{"test":"datum.mh >= 0","value":"#1b6e1b"},"value":"#8a1e1e"}}},
{"data":{"values":[{"v":0}]},"mark":{"type":"rule","color":"#2a2ad4","strokeWidth":1},"encoding":{"y":{"field":"v","type":"quantitative","axis":null}}},
{"data":{"name":"mc"},"mark":{"type":"area","opacity":0.9},"encoding":{"x":{"field":"d","type":"ordinal","axis":null},"y":{"field":"m","type":"quantitative","axis":null},"y2":{"field":"s"},"color":{"field":"q","type":"nominal","scale":{"domain":["dn","up"],"range":["#f5c2c2","#b6efb6"]},"legend":null},"detail":{"field":"g","type":"nominal"}}},
{"data":{"name":"mc"},"mark":{"type":"line","color":"#ea8c8c","strokeWidth":2.5},"encoding":{"x":{"field":"d","type":"ordinal","axis":null},"y":{"field":"s","type":"quantitative","axis":null}}},
{"data":{"name":"mc"},"mark":{"type":"line","color":"#3434e6","strokeWidth":2},"encoding":{"x":{"field":"d","type":"ordinal","axis":null},"y":{"field":"m","type":"quantitative","axis":null}}},
{"data":{"name":"mt"},"mark":{"type":"line","color":"#111","strokeWidth":2},"encoding":{"x":{"field":"d","type":"ordinal","axis":null},"y":{"field":"v","type":"quantitative","axis":null}}},
{"data":{"name":"one"},"mark":{"type":"point","shape":"M-1,-0.171H1V0.171H-1Z","size":5776,"filled":true,"fill":"#e7ecf1","stroke":"#a7b2bd","strokeWidth":1,"opacity":1,"xOffset":-1.9},"encoding":{"x":{"datum":"2016-08-04","type":"ordinal","axis":null},"y":{"datum":164,"type":"quantitative","axis":null}}},
{"data":{"name":"one"},"mark":{"type":"point","shape":"M-1,-0.382H1V0.382H-1Z","size":1156,"filled":true,"fill":"#e7ecf1","stroke":"#a7b2bd","strokeWidth":1,"opacity":1,"xOffset":-0.5},"encoding":{"x":{"datum":"2016-08-17","type":"ordinal","axis":null},"y":{"datum":164,"type":"quantitative","axis":null}}},
{"data":{"name":"one"},"mark":{"type":"point","shape":"M-1,-0.151H1V0.151H-1Z","size":7396,"filled":true,"fill":"#e7ecf1","stroke":"#a7b2bd","strokeWidth":1,"opacity":1},"encoding":{"x":{"datum":"2016-08-31","type":"ordinal","axis":null},"y":{"datum":164,"type":"quantitative","axis":null}}},
{"data":{"name":"one"},"mark":{"type":"text","text":"MACD-, señal","align":"left","baseline":"middle","fontSize":11.5,"fontWeight":"bold","color":"#e06666","xOffset":-1},"encoding":{"x":{"datum":"2016-07-27","type":"ordinal","axis":null},"y":{"datum":164,"type":"quantitative","axis":null}}},
{"data":{"name":"one"},"mark":{"type":"text","text":"Señal","align":"left","baseline":"middle","fontSize":11.5,"fontWeight":"bold","color":"#e06666","xOffset":-3},"encoding":{"x":{"datum":"2016-08-15","type":"ordinal","axis":null},"y":{"datum":164,"type":"quantitative","axis":null}}},
{"data":{"name":"one"},"mark":{"type":"text","text":"MACD ( 12 26 9)","align":"left","baseline":"middle","fontSize":11.5,"fontWeight":"bold","color":"#3333dd","xOffset":-4},"encoding":{"x":{"datum":"2016-08-23","type":"ordinal","axis":null},"y":{"datum":164,"type":"quantitative","axis":null}}},
{"data":{"name":"one"},"mark":{"type":"point","shape":"M-1,-0.35H1V0.35H-1Z","size":1369,"filled":true,"fill":"#ffffff","stroke":"#8d9aa7","strokeWidth":1,"opacity":1,"xOffset":28.5,"yOffset":-6},"encoding":{"x":{"datum":"2017-01-23","type":"ordinal","axis":null},"y":{"datum":106.67,"type":"quantitative","axis":null}}},
{"data":{"name":"one"},"mark":{"type":"text","text":"106,67","fontSize":11.5,"fontWeight":"bold","color":"#e06666","xOffset":28.5,"yOffset":-6},"encoding":{"x":{"datum":"2017-01-23","type":"ordinal","axis":null},"y":{"datum":106.67,"type":"quantitative","axis":null}}},
{"data":{"name":"one"},"mark":{"type":"point","shape":"M-1,-0.35H1V0.35H-1Z","size":1369,"filled":true,"fill":"#ffffff","stroke":"#8d9aa7","strokeWidth":1,"opacity":1,"xOffset":28.5,"yOffset":3},"encoding":{"x":{"datum":"2017-01-23","type":"ordinal","axis":null},"y":{"datum":79.006,"type":"quantitative","axis":null}}},
{"data":{"name":"one"},"mark":{"type":"text","text":"79,006","fontSize":11.5,"fontWeight":"bold","color":"#3333dd","xOffset":28.5,"yOffset":3},"encoding":{"x":{"datum":"2017-01-23","type":"ordinal","axis":null},"y":{"datum":79.006,"type":"quantitative","axis":null}}},
{"data":{"name":"one"},"mark":{"type":"point","shape":"M-1,-0.325H1V0.325H-1Z","size":1600,"filled":true,"fill":"#ffffff","stroke":"#8d9aa7","strokeWidth":1,"opacity":1,"xOffset":30},"encoding":{"x":{"datum":"2017-01-23","type":"ordinal","axis":null},"y":{"datum":-27.662,"type":"quantitative","axis":null}}},
{"data":{"name":"one"},"mark":{"type":"text","text":"-27,662","fontSize":11.5,"fontWeight":"bold","color":"#e06666","xOffset":30},"encoding":{"x":{"datum":"2017-01-23","type":"ordinal","axis":null},"y":{"datum":-27.662,"type":"quantitative","axis":null}}}
]}
]
}
